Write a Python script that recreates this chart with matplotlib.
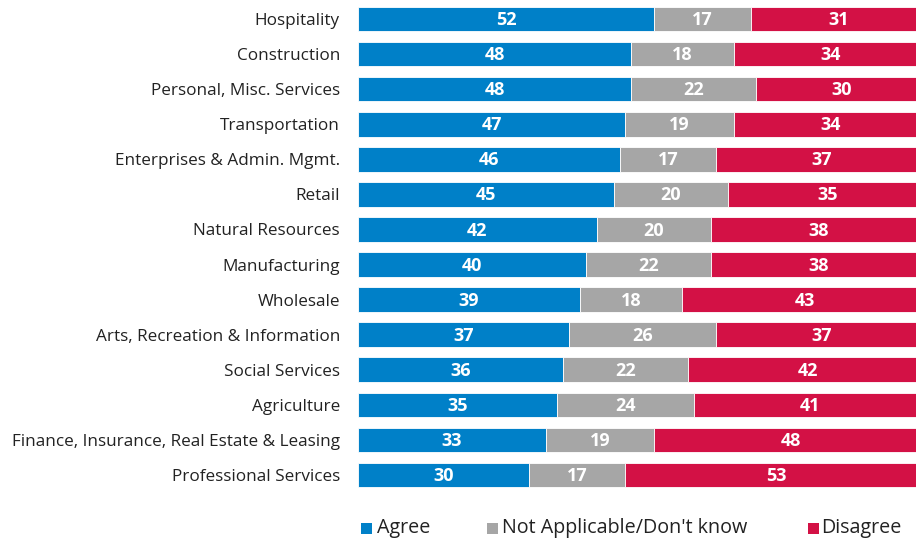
import matplotlib
matplotlib.use("Agg")
import matplotlib.pyplot as plt
from matplotlib.patches import Rectangle

plt.rcParams['font.family'] = ['Open Sans', 'DejaVu Sans']

categories = ["Hospitality", "Construction", "Personal, Misc. Services", "Transportation",
              "Enterprises & Admin. Mgmt.", "Retail", "Natural Resources", "Manufacturing",
              "Wholesale", "Arts, Recreation & Information", "Social Services", "Agriculture",
              "Finance, Insurance, Real Estate & Leasing", "Professional Services"]
agree = [52, 48, 48, 47, 46, 45, 42, 40, 39, 37, 36, 35, 33, 30]
not_applicable = [17, 18, 22, 19, 17, 20, 20, 22, 18, 26, 22, 24, 19, 17]
disagree = [31, 34, 30, 34, 37, 35, 38, 38, 43, 37, 42, 41, 48, 53]
series_names = ["Agree", "Not Applicable/Don't know", "Disagree"]
colors = ["#0080C8", "#A6A6A6", "#D31145"]

fig = plt.figure(figsize=(9.16, 5.41), dpi=100)
ax = fig.add_axes([358/916, 1-492.5/541, 569/916, (492.5-1.5)/541])

ypos = list(range(len(categories)))
left = [0]*len(categories)
for vals, col in zip([agree, not_applicable, disagree], colors):
    ax.barh(ypos, vals, left=left, height=0.7, color=col, edgecolor="white", linewidth=0.6)
    for y, v, l in zip(ypos, vals, left):
        ax.text(l + v/2, y + 0.03, str(v), ha="center", va="center", color="white",
                fontsize=13, fontweight="bold")
    left = [a + b for a, b in zip(left, vals)]

ax.set_xlim(0, 100)
ax.set_ylim(len(categories)-0.5, -0.5)
ax.set_yticks(ypos)
ax.set_yticklabels(categories, fontsize=12.3, color="#222222")
ax.tick_params(axis="y", length=0, pad=13)
ax.set_xticks([])
for s in ["top", "right", "bottom", "left"]:
    ax.spines[s].set_visible(False)

# legend
leg_items = [(361, 377), (487, 502), (808, 821)]
for (sx, tx), name, col in zip(leg_items, series_names, colors):
    fig.patches.append(Rectangle((sx/916, 1-534/541), 11/916, 11/541,
                                 transform=fig.transFigure, facecolor=col, edgecolor="none"))
    fig.text(tx/916, 1-528/541, name, ha="left", va="center", fontsize=14.2, color="#222222")

fig.savefig("out.png", dpi=100)
